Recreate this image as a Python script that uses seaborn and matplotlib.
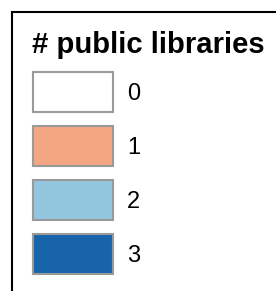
import seaborn as sns
import matplotlib.pyplot as plt

# legend data
title = "# public libraries"
labels = ["0", "1", "2", "3"]
colors = ["#ffffff", "#f4a582", "#92c5de", "#1764ab"]
widths = [1, 1, 1, 1]

sns.set_theme(style="white")
plt.rcParams['font.family'] = ['Liberation Sans', 'DejaVu Sans']

W, H = 276, 291
fig = plt.figure(figsize=(W / 100, H / 100), dpi=100)

# outer frame: only left and top edges are visible
frame = fig.add_axes([11.5 / W, -0.2, 1.0, 1.2 - 11.5 / H])
frame.set_xticks([])
frame.set_yticks([])
for side in ["right", "bottom"]:
    frame.spines[side].set_visible(False)
for side in ["left", "top"]:
    frame.spines[side].set_color("black")
    frame.spines[side].set_linewidth(1.5)

# title
fig.text(32 / W, 1 - 53 / H, title, fontsize=21.1, fontweight="bold",
         ha="left", va="baseline", color="black")

# swatches as horizontal bars
ax = fig.add_axes([33 / W, 1 - 281 / H, 80 / W, 216 / H])
sns.barplot(x=widths, y=labels, hue=labels, palette=colors, orient="h",
            width=0.74, saturation=1, edgecolor="#9a9a9a", linewidth=1.5,
            legend=False, ax=ax)
for p in ax.patches:
    p.set_clip_on(False)
ax.set_xlim(0, 1)
ax.set_ylim(3.5, -0.5)
ax.set_xlabel("")
ax.set_ylabel("")
ax.set_xticks([])
ax.yaxis.tick_right()
ax.tick_params(axis="y", length=0, pad=10, labelsize=17, labelcolor="black")
ax.patch.set_alpha(0)
sns.despine(ax=ax, left=True, bottom=True, right=True, top=True)

fig.savefig("out.png", dpi=100)
